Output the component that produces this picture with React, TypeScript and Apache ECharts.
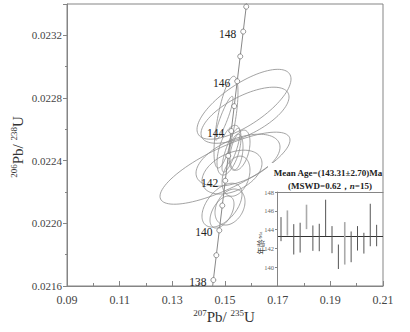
import React, { useEffect, useRef } from "react";
import * as echarts from "echarts";

// Concordia reference points (age in Ma, 207Pb/235U, 206Pb/238U)
const concordiaAge = [137, 138, 139, 140, 141, 142, 143, 144, 145, 146, 147, 148, 149, 150];
const concordia75 = [0.14445, 0.145578, 0.146705, 0.147837, 0.148968, 0.1501, 0.151233, 0.152367, 0.153503, 0.154639, 0.155777, 0.156916, 0.158056, 0.159197];
const concordia68 = [0.02148, 0.021638, 0.0217965, 0.021955, 0.0221136, 0.0222722, 0.0224307, 0.0225894, 0.022748, 0.0229067, 0.0230654, 0.0232241, 0.0233828, 0.0235416];
const labelledAges = [138, 140, 142, 144, 146, 148];

// Error ellipses: centre, half-extent in x and y, error correlation
const ellX = [0.15722, 0.1576, 0.15, 0.15494, 0.15266, 0.15038, 0.14962, 0.15152, 0.15228, 0.15418, 0.1557, 0.14886, 0.1519, 0.14886, 0.15418];
const ellSX = [0.01785, 0.01671, 0.02468, 0.01595, 0.01139, 0.00456, 0.00342, 0.00456, 0.00342, 0.00266, 0.0038, 0.0076, 0.0057, 0.00456, 0.0053];
const ellY = [0.02276, 0.02269, 0.022352, 0.022403, 0.022327, 0.022646, 0.022671, 0.022467, 0.022467, 0.022454, 0.022467, 0.022116, 0.022104, 0.022072, 0.022301];
const ellSY = [0.000223, 0.000179, 0.00023, 0.000166, 0.00014, 0.000293, 0.00014, 0.000159, 0.00014, 0.000115, 0.000128, 0.00014, 0.000115, 0.000102, 0.000128];
const ellRho = [0.72, 0.65, 0.78, 0.5, 0.4, 0.65, 0.9, 0.5, 0.8, 0.3, 0.4, 0.5, 0.3, 0.5, 0.3];

// Inset: weighted mean age plot
const spotAgeHigh = [145.33, 146.04, 144.58, 144.73, 146.65, 144.44, 144.62, 147.18, 144.37, 142.41, 144.8, 143.8, 144.37, 143.66, 146.75, 144.51];
const spotAgeLow = [142.77, 143.37, 141.35, 141.56, 144.05, 141.74, 141.7, 143.3, 141.49, 139.81, 140.28, 140.53, 141.77, 141.45, 142.23, 142.23];
const lightSpots = [2, 5, 11];
const meanAge = 143.31;
const xTicks = [0.09, 0.21, 0.02];
const yTicks = [0.0216, 0.0234, 0.0004];
const insetTicks = [138, 148, 2];

const SERIF = "'Liberation Serif', 'Times New Roman', 'DejaVu Serif', serif";
const AXIS = "#858585";

export default function App() {
  const ref = useRef<HTMLDivElement>(null);
  useEffect(() => {
    if (!ref.current) return;
    const chart = echarts.init(ref.current, null, { renderer: "svg" });
    const ellData = ellX.map((x, i) => [x, ellSX[i], ellY[i], ellSY[i], ellRho[i]]);
    const concData = concordiaAge.map((a, i) => ({
      value: [concordia75[i], concordia68[i], a],
      label: {
        show: labelledAges.includes(a),
        formatter: String(a),
        position: "left",
        distance: 4,
        offset: [0, 2],
        fontFamily: SERIF,
        fontSize: 11.5,
        color: "#222",
      },
    }));
    const barData = spotAgeHigh.map((h, i) => [i + 1, spotAgeLow[i], h]);

    chart.setOption({
      animation: false,
      grid: [
        { left: 67, top: 4, width: 316, height: 282, show: true, borderColor: AXIS, borderWidth: 1 },
        { left: 277, top: 192, width: 106, height: 94, z: 10 },
      ],
      xAxis: [
        {
          type: "value", gridIndex: 0, min: xTicks[0], max: xTicks[1], interval: xTicks[2],
          splitLine: { show: false },
          axisLine: { lineStyle: { color: AXIS } },
          axisTick: { inside: true, length: 5, lineStyle: { color: AXIS } },
          minorTick: { show: true, splitNumber: 2, length: 3, lineStyle: { color: AXIS } },
          axisLabel: { formatter: (v: number) => v.toFixed(2), fontFamily: SERIF, fontSize: 12, color: "#444", margin: 8 },
        },
        {
          type: "value", gridIndex: 1, min: 0.37, max: 17, position: "top", z: 10,
          splitLine: { show: false },
          axisLine: { show: true, onZero: false, lineStyle: { color: AXIS } },
          axisTick: { show: false },
          axisLabel: { show: false },
        },
      ],
      yAxis: [
        {
          type: "value", gridIndex: 0, min: yTicks[0], max: yTicks[1], interval: yTicks[2],
          splitLine: { show: false },
          axisLine: { lineStyle: { color: AXIS } },
          axisTick: { inside: false, length: 4, lineStyle: { color: AXIS } },
          minorTick: { show: true, splitNumber: 2, length: 2, lineStyle: { color: AXIS } },
          axisLabel: { showMaxLabel: false, formatter: (v: number) => v.toFixed(4), fontFamily: SERIF, fontSize: 11, color: "#444", margin: 5 },
        },
        {
          type: "value", gridIndex: 1, min: insetTicks[0], max: insetTicks[1], interval: insetTicks[2], z: 10,
          splitLine: { show: false },
          axisLine: { show: true, onZero: false, lineStyle: { color: AXIS } },
          axisTick: { inside: false, length: 2, lineStyle: { color: AXIS } },
          axisLabel: { formatter: (v: number) => (v === insetTicks[0] ? "" : String(v)), fontFamily: SERIF, fontSize: 6.5, color: "#666", margin: 3 },
        },
      ],
      graphic: [
        { type: "rect", z: 5, shape: { x: 268, y: 163, width: 114, height: 117 }, style: { fill: "#fff" } },
        {
          type: "text", z: 20, x: 328, y: 173,
          style: { text: "Mean Age=(143.31±2.70)Ma", font: `bold 9px ${SERIF}`, fill: "#222", align: "center", verticalAlign: "middle" },
        },
        {
          type: "text", z: 20, x: 330, y: 186,
          style: {
            text: "{a|(MSWD=0.62，}{i|n}{a|=15)}", align: "center", verticalAlign: "middle",
            rich: {
              a: { fontFamily: SERIF, fontSize: 9, fontWeight: "bold", fill: "#222" },
              i: { fontFamily: SERIF, fontSize: 9, fontWeight: "bold", fontStyle: "italic", fill: "#222" },
            },
          },
        },
        {
          type: "text", z: 20, x: 260, y: 243, rotation: Math.PI / 2,
          style: {
            text: "{b|年龄}{s|/Ma}", align: "center", verticalAlign: "middle",
            rich: {
              b: { fontFamily: "'Noto Sans CJK SC', sans-serif", fontSize: 7.5, fill: "#444" },
              s: { fontFamily: SERIF, fontSize: 5, fill: "#444" },
            },
          },
        },
        {
          type: "text", x: 17, y: 147, rotation: Math.PI / 2,
          style: {
            text: "{s|206}{m|Pb/ }{s|238}{m|U}", align: "center", verticalAlign: "middle",
            rich: {
              s: { fontFamily: SERIF, fontSize: 9, fill: "#333", verticalAlign: "top", lineHeight: 16 },
              m: { fontFamily: SERIF, fontSize: 15, fill: "#333", verticalAlign: "bottom", lineHeight: 16 },
            },
          },
        },
        {
          type: "text", x: 224, y: 316,
          style: {
            text: "{s|207}{m|Pb/ }{s|235}{m|U}", align: "center", verticalAlign: "middle",
            rich: {
              s: { fontFamily: SERIF, fontSize: 9, fill: "#333", verticalAlign: "top", lineHeight: 16 },
              m: { fontFamily: SERIF, fontSize: 15, fill: "#333", verticalAlign: "bottom", lineHeight: 16 },
            },
          },
        },
      ],
      series: [
        {
          type: "custom", xAxisIndex: 0, yAxisIndex: 0, clip: true, z: 2,
          data: ellData,
          encode: { x: 0, y: 2 },
          renderItem: (params: any, api: any) => {
            const x = api.value(0), sx = api.value(1), y = api.value(2), sy = api.value(3), r = api.value(4);
            const pts: number[][] = [];
            const q = Math.sqrt(1 - r * r);
            for (let k = 0; k <= 96; k++) {
              const t = (k / 96) * Math.PI * 2;
              pts.push(api.coord([x + sx * Math.cos(t), y + sy * (r * Math.cos(t) + q * Math.sin(t))]));
            }
            return { type: "polyline", shape: { points: pts }, style: { fill: "none", stroke: "#8c8c8c", lineWidth: 0.8 } };
          },
        },
        {
          type: "line", xAxisIndex: 0, yAxisIndex: 0, clip: true, z: 3,
          data: concData,
          symbol: "circle", symbolSize: 5,
          lineStyle: { color: "#888", width: 1 },
          itemStyle: { color: "#fff", borderColor: "#777", borderWidth: 0.8 },
        },
        {
          type: "custom", xAxisIndex: 1, yAxisIndex: 1, z: 12,
          data: barData,
          encode: { x: 0, y: [1, 2] },
          renderItem: (params: any, api: any) => {
            const i = api.value(0);
            const p1 = api.coord([i, api.value(1)]);
            const p2 = api.coord([i, api.value(2)]);
            const light = lightSpots.includes(i);
            return {
              type: "line",
              shape: { x1: p1[0], y1: p1[1], x2: p2[0], y2: p2[1] },
              style: { stroke: light ? "#aaa" : "#555", lineWidth: light ? 1.6 : 1 },
            };
          },
        },
        {
          type: "line", xAxisIndex: 1, yAxisIndex: 1, z: 13,
          data: [], symbol: "none",
          markLine: {
            silent: true, symbol: "none", label: { show: false },
            lineStyle: { color: "#333", width: 1, type: "solid" },
            data: [{ yAxis: meanAge }],
          },
        },
      ],
    });
    return () => chart.dispose();
  }, []);
  return <div ref={ref} style={{ position: "fixed", left: 0, top: 0, width: 410, height: 332, background: "#fff" }} />;
}
